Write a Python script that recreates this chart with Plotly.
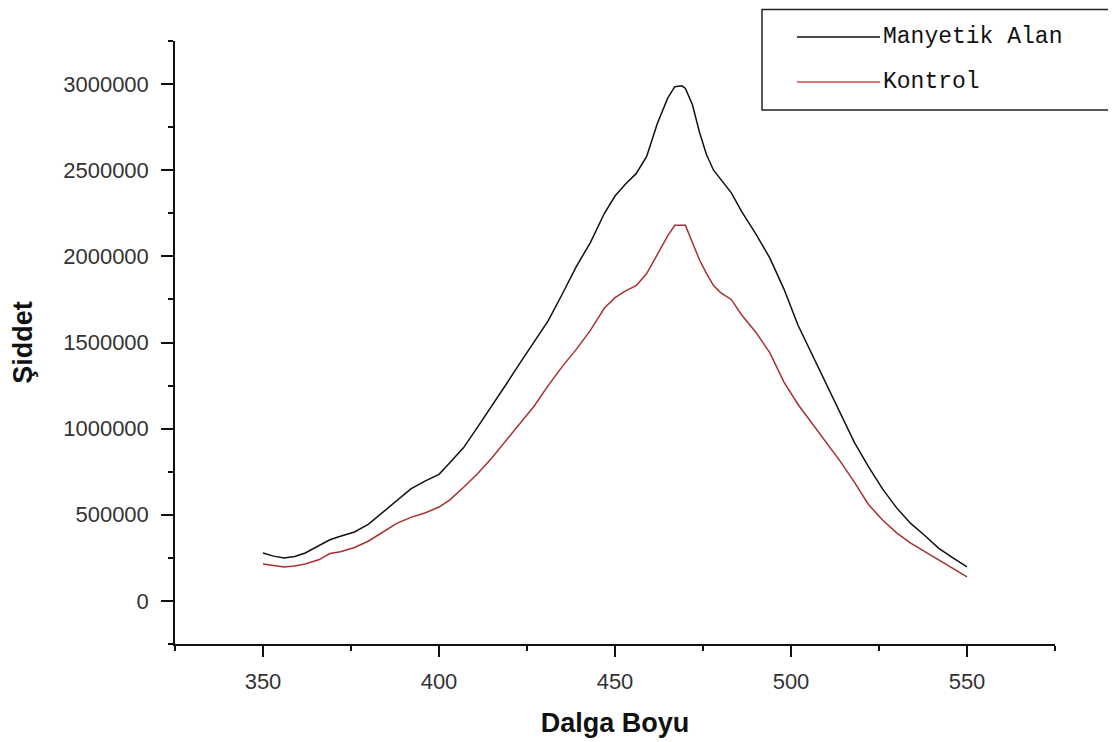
import plotly.graph_objects as go

wavelength = [350, 353, 356, 359, 362, 366, 369, 372, 376, 380, 384, 388, 392, 396, 400,
              403, 407, 411, 415, 419, 423, 427, 431, 435, 439, 443, 447, 450, 453, 456,
              459, 462, 465, 467, 469, 470, 472, 474, 476, 478, 480, 483, 486, 490, 494,
              498, 502, 506, 510, 514, 518, 522, 526, 530, 534, 538, 542, 546, 550]

manyetik_alan = [278000, 260000, 249000, 258000, 278000, 320000, 355000, 375000, 400000, 446000,
                 515000, 585000, 650000, 695000, 735000, 800000, 890000, 1010000, 1130000, 1255000,
                 1380000, 1500000, 1625000, 1780000, 1940000, 2080000, 2250000, 2350000, 2420000, 2480000,
                 2580000, 2770000, 2920000, 2985000, 2990000, 2975000, 2880000, 2720000, 2590000, 2500000,
                 2450000, 2370000, 2260000, 2130000, 1990000, 1810000, 1600000, 1430000, 1260000, 1090000,
                 920000, 780000, 650000, 540000, 450000, 380000, 305000, 250000, 197000]

kontrol = [214000, 205000, 197000, 203000, 214000, 240000, 275000, 285000, 310000, 348000,
           400000, 450000, 485000, 510000, 545000, 585000, 660000, 740000, 830000, 930000,
           1030000, 1130000, 1250000, 1360000, 1460000, 1570000, 1700000, 1760000, 1800000, 1830000,
           1900000, 2010000, 2120000, 2180000, 2180000, 2180000, 2080000, 1980000, 1900000, 1830000,
           1790000, 1750000, 1660000, 1560000, 1440000, 1270000, 1140000, 1030000, 920000, 810000,
           690000, 560000, 470000, 395000, 335000, 285000, 235000, 185000, 139000]

series_names = ["Manyetik Alan", "Kontrol"]
series_colors = ["#111111", "#a83030"]

x_ticks = [350, 400, 450, 500, 550]
y_ticks = [0, 500000, 1000000, 1500000, 2000000, 2500000, 3000000]

fig = go.Figure()
for name, vals, col in zip(series_names, [manyetik_alan, kontrol], series_colors):
    fig.add_trace(go.Scatter(x=wavelength, y=vals, mode="lines", name=name,
                             line=dict(color=col, width=1.5), showlegend=False))

tick_font = dict(family="Liberation Sans, Arial, sans-serif", size=22, color="#333333")
title_font = dict(family="Liberation Sans, Arial, sans-serif", size=27, color="#111111", weight="bold")

fig.update_xaxes(
    range=[325, 575], tickvals=x_ticks, ticktext=[str(v) for v in x_ticks],
    showline=True, linecolor="#111111", linewidth=1.5, showgrid=False, zeroline=False,
    ticks="outside", ticklen=11, tickwidth=1.5, tickcolor="#111111",
    minor=dict(dtick=25, tick0=325, ticks="outside", ticklen=5, tickwidth=1.5, tickcolor="#111111", showgrid=False),
    tickfont=tick_font, ticklabelstandoff=6,
    title=dict(text="Dalga Boyu", font=title_font, standoff=20),
)
fig.update_yaxes(
    range=[-250000, 3250000], tickvals=y_ticks, ticktext=[str(v) for v in y_ticks],
    showline=True, linecolor="#111111", linewidth=1.5, showgrid=False, zeroline=False,
    ticks="outside", ticklen=12, tickwidth=1.5, tickcolor="#111111",
    minor=dict(dtick=250000, tick0=0, ticks="outside", ticklen=5, tickwidth=1.5, tickcolor="#111111", showgrid=False),
    tickfont=tick_font, ticklabelstandoff=8,
    title=dict(text="Şiddet", font=title_font, standoff=24),
)

# Plot area in page pixels (page has an 8px body offset)
OFF = 8
L, R, T, B = 175, 1055, 41, 644
W, H = R - L, B - T
def px(x):
    return (x - L) / W
def py(y):
    return (B - y) / H

shapes = [dict(type="rect", xref="paper", yref="paper",
               x0=px(762), x1=px(1140), y0=py(110), y1=py(9.5),
               line=dict(color="#222222", width=1.5), fillcolor="white", layer="above")]
annotations = []
for i, (name, col) in enumerate(zip(series_names, series_colors)):
    yy = 37 + i * 45
    shapes.append(dict(type="line", xref="paper", yref="paper",
                       x0=px(797), x1=px(880), y0=py(yy), y1=py(yy),
                       line=dict(color=col if i == 0 else "#d04848", width=1.5), layer="above"))
    annotations.append(dict(xref="paper", yref="paper", x=px(881), y=py(yy),
                            xanchor="left", yanchor="middle", showarrow=False, text=name,
                            font=dict(family="Liberation Mono, Courier New, monospace", size=23, color="#111111")))

fig.update_layout(
    width=1116, height=742,
    margin=dict(l=L - OFF, r=1116 - (R - OFF), t=T - OFF, b=742 - (B - OFF)),
    paper_bgcolor="white", plot_bgcolor="white",
    shapes=shapes, annotations=annotations,
)

fig.write_html("out.html")
